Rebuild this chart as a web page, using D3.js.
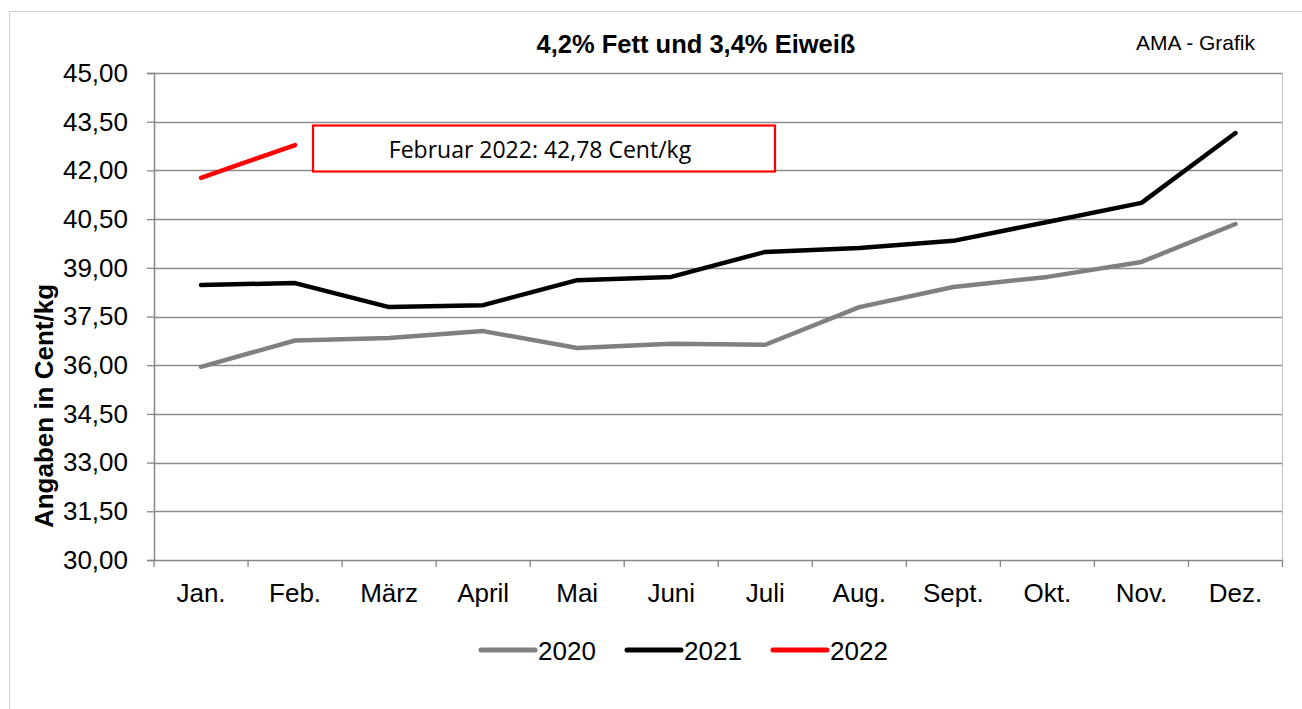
<!DOCTYPE html>
<html>
<head>
<meta charset="utf-8">
<script src="https://cdn.jsdelivr.net/npm/d3@7"></script>
<style>
  html, body { margin: 0; padding: 0; background: #fff; }
  svg { display: block; font-family: "Liberation Sans", Arial, sans-serif; }
</style>
</head>
<body>
<div id="chart"></div>
<script>
// month labels on the x axis
const months = ['Jan.', 'Feb.', 'März', 'April', 'Mai', 'Juni', 'Juli', 'Aug.', 'Sept.', 'Okt.', 'Nov.', 'Dez.'];

// milk price, cent/kg
const values2020 = [35.95, 36.76, 36.84, 37.05, 36.53, 36.66, 36.63, 37.79, 38.41, 38.72, 39.18, 40.35];
const values2021 = [38.47, 38.53, 37.79, 37.85, 38.62, 38.72, 39.49, 39.61, 39.83, 40.41, 41.00, 43.15];
const values2022 = [41.77, 42.78];

const yTicks = [30, 31.5, 33, 34.5, 36, 37.5, 39, 40.5, 42, 43.5, 45];

const series = [
  { name: '2020', values: values2020, color: '#808080' },
  { name: '2021', values: values2021, color: '#000000' },
  { name: '2022', values: values2022, color: '#ff0000' }
];

const width = 1302, height = 709;
const margin = { left: 154, right: 1282.5, top: 73, bottom: 560 };
const axisFont = 26;

const svg = d3.select('#chart').append('svg')
  .attr('width', width)
  .attr('height', height);

// outer frame (cut at right/bottom like the source picture)
svg.append('rect')
  .attr('x', 9.5).attr('y', 11.5)
  .attr('width', 1310).attr('height', 720)
  .attr('fill', 'none')
  .attr('stroke', '#d0d0d0')
  .attr('stroke-width', 1);

const x = d3.scaleBand()
  .domain(months)
  .range([margin.left, margin.right])
  .paddingInner(0).paddingOuter(0);

const y = d3.scaleLinear()
  .domain([30, 45])
  .range([margin.bottom, margin.top]);

const fmt = v => d3.format('.2f')(v).replace('.', ',');

// grid lines
svg.append('g')
  .selectAll('line')
  .data(yTicks.slice(1))
  .join('line')
  .attr('x1', margin.left).attr('x2', margin.right)
  .attr('y1', d => Math.round(y(d)) + 0.5)
  .attr('y2', d => Math.round(y(d)) + 0.5)
  .attr('stroke', '#8c8c8c')
  .attr('stroke-width', 1.3);

// right border of the plot area
svg.append('line')
  .attr('x1', margin.right).attr('x2', margin.right)
  .attr('y1', margin.top).attr('y2', margin.bottom)
  .attr('stroke', '#c0c0c0')
  .attr('stroke-width', 1);

// y axis
const yAxis = svg.append('g')
  .attr('transform', `translate(${margin.left},0)`)
  .call(d3.axisLeft(y).tickValues(yTicks).tickFormat(fmt).tickSize(7).tickPadding(19));
yAxis.select('.domain').attr('stroke', '#868686').attr('stroke-width', 1.5);
yAxis.selectAll('.tick line').attr('stroke', '#868686').attr('stroke-width', 1.3);
yAxis.selectAll('text')
  .attr('font-size', axisFont)
  .attr('font-family', '"Liberation Sans", Arial, sans-serif')
  .attr('fill', '#000');

// x axis: ticks at band edges, labels at band centres
const xEdges = months.map(m => x(m)).concat([margin.right]);
const xg = svg.append('g');
xg.append('line')
  .attr('x1', margin.left).attr('x2', margin.right)
  .attr('y1', margin.bottom + 0.5).attr('y2', margin.bottom + 0.5)
  .attr('stroke', '#868686').attr('stroke-width', 1.5);
xg.selectAll('line.tick')
  .data(xEdges)
  .join('line')
  .attr('class', 'tick')
  .attr('x1', d => d).attr('x2', d => d)
  .attr('y1', margin.bottom).attr('y2', margin.bottom + 7)
  .attr('stroke', '#868686').attr('stroke-width', 1.3);
xg.selectAll('text')
  .data(months)
  .join('text')
  .attr('x', d => x(d) + x.bandwidth() / 2)
  .attr('y', 602)
  .attr('text-anchor', 'middle')
  .attr('font-size', axisFont)
  .attr('fill', '#000')
  .text(d => d);

// y axis title
svg.append('text')
  .attr('transform', 'translate(53,406) rotate(-90)')
  .attr('text-anchor', 'middle')
  .attr('font-size', 26)
  .attr('font-weight', 'bold')
  .text('Angaben in Cent/kg');

// title and source
svg.append('text')
  .attr('x', 696).attr('y', 53)
  .attr('text-anchor', 'middle')
  .attr('font-size', 25.5)
  .attr('font-weight', 'bold')
  .text('4,2% Fett und 3,4% Eiweiß');

svg.append('text')
  .attr('x', 1255).attr('y', 50)
  .attr('text-anchor', 'end')
  .attr('font-size', 21)
  .text('AMA - Grafik');

// lines
const line = d3.line()
  .x((d, i) => x(months[i]) + x.bandwidth() / 2)
  .y(d => y(d));

svg.append('g')
  .selectAll('path')
  .data(series)
  .join('path')
  .attr('fill', 'none')
  .attr('stroke', d => d.color)
  .attr('stroke-width', 4.5)
  .attr('stroke-linecap', 'round')
  .attr('stroke-linejoin', 'round')
  .attr('d', d => line(d.values));

// annotation box
svg.append('rect')
  .attr('x', 313).attr('y', 125.5)
  .attr('width', 462).attr('height', 46)
  .attr('fill', '#fff')
  .attr('stroke', '#ff0000')
  .attr('stroke-width', 2.2);
svg.append('text')
  .attr('x', 540).attr('y', 158)
  .attr('text-anchor', 'middle')
  .attr('font-family', '"Open Sans", "Noto Sans", sans-serif')
  .attr('font-size', 23)
  .text('Februar 2022: ' + fmt(values2022[1]) + ' Cent/kg');

// legend
const legend = svg.append('g')
  .selectAll('g')
  .data(series)
  .join('g')
  .attr('transform', (d, i) => `translate(${481 + i * 146},650)`);
legend.append('line')
  .attr('x1', 0).attr('x2', 54)
  .attr('y1', 0).attr('y2', 0)
  .attr('stroke', d => d.color)
  .attr('stroke-width', 5)
  .attr('stroke-linecap', 'round');
legend.append('text')
  .attr('x', 57).attr('y', 9.5)
  .attr('font-size', axisFont)
  .text(d => d.name);
</script>
</body>
</html>
